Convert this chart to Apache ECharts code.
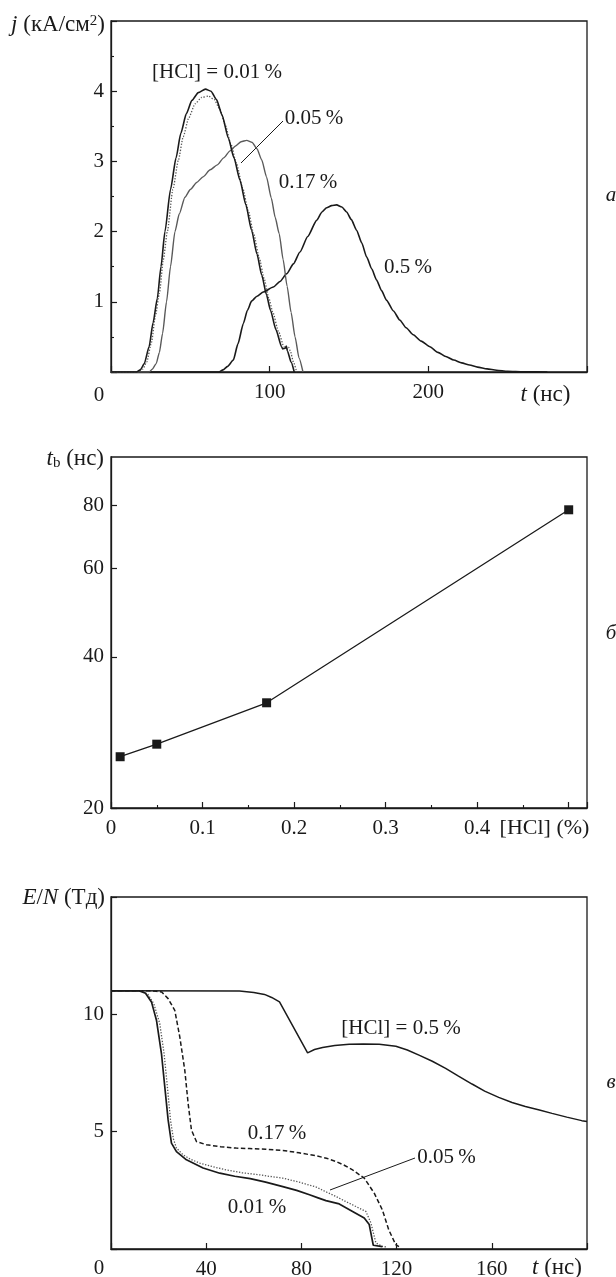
<!DOCTYPE html>
<html><head><meta charset="utf-8">
<script src="https://cdn.jsdelivr.net/npm/echarts@6/dist/echarts.min.js"></script>
<style>html,body{margin:0;padding:0;background:#fff}#c{width:616px;height:1277px}</style>
</head><body><div id="c"></div>
<script>
// ---------- DATA ----------
// Panel a: current density j (kA/cm^2) vs t (ns)
const a_HCl_001 = [[0,0],[16,0],[18.5,0.03],[21,0.12],[24,0.36],[26.5,0.7],[29.2,1.05],[31.5,1.5],[34,2.0],[37.5,2.6],[41,3.05],[44,3.4],[47.5,3.68],[51,3.87],[55,3.98],[59.5,4.03],[63,4.0],[66.5,3.88],[70,3.66],[74,3.33],[77.5,3.05],[81.3,2.73],[85,2.38],[88.6,2.02],[92,1.68],[95,1.38],[98,1.1],[100.5,0.88],[104,0.6],[107.5,0.36],[108.2,0.33],[109.8,0.34],[110.5,0.37],[111.2,0.3],[113.5,0.14],[115.5,0]];
const a_HCl_005 = [[0,0],[17.5,0],[20,0.04],[22.5,0.14],[25.5,0.42],[28,0.8],[30.5,1.12],[33,1.6],[35.5,2.0],[39,2.6],[42.5,3.02],[45.5,3.35],[49,3.62],[53,3.82],[57,3.91],[61.5,3.93],[65,3.88],[68.5,3.75],[72,3.52],[75.5,3.25],[79,2.98],[83,2.62],[86.5,2.3],[90,1.96],[93.5,1.62],[96.5,1.33],[99.5,1.05],[102,0.85],[105.5,0.58],[109,0.36],[111,0.33],[112,0.35],[113,0.3],[115,0.14],[117,0]];
const a_HCl_017 = [[0,0],[24,0],[26,0.04],[28.5,0.12],[30.5,0.28],[32.5,0.55],[35,1.0],[37.5,1.5],[40.3,2.0],[43,2.25],[46.6,2.49],[50,2.6],[54,2.7],[58,2.78],[62.5,2.88],[67,2.95],[71,3.05],[75,3.15],[78.5,3.22],[82,3.28],[85.5,3.3],[89,3.27],[92,3.18],[95,3.02],[98,2.78],[101,2.48],[103.5,2.2],[106,1.97],[108.5,1.6],[111,1.22],[113.5,0.85],[116,0.5],[118.5,0.2],[121,0]];
const a_HCl_05 = [[0,0],[68,0],[70.6,0.03],[73.5,0.08],[77.1,0.17],[80,0.4],[83.4,0.69],[86,0.88],[88.6,1.01],[92,1.08],[96,1.14],[102.3,1.21],[106.5,1.29],[110.7,1.4],[115,1.54],[119.1,1.71],[124,1.93],[129.6,2.16],[133,2.28],[135.9,2.34],[139,2.37],[142.2,2.38],[145.5,2.35],[148.5,2.28],[151.5,2.17],[154.8,2.02],[158,1.84],[161.1,1.64],[164.3,1.47],[167.4,1.31],[170.5,1.16],[173.7,1.02],[178,0.87],[182,0.74],[186,0.63],[190.5,0.53],[195.5,0.44],[201,0.36],[206,0.28],[211,0.22],[216,0.17],[221,0.13],[226,0.1],[231,0.07],[237,0.045],[243,0.025],[250,0.01],[260,0.003],[275,0]];

// Panel b: breakdown time t_b (ns) vs [HCl] (%)
const b_HCl = [0.01, 0.05, 0.17, 0.5];
const b_tb = [25.3, 26.8, 32.4, 78.5];

// Panel c: E/N (Td) vs t (ns)
const c_HCl_001 = [[0,11.0],[12,11.0],[14.5,10.9],[17,10.53],[19.1,9.75],[21.2,8.33],[22.6,6.91],[24,5.5],[25.4,4.51],[27.5,4.15],[31.7,3.8],[38.7,3.45],[45.7,3.23],[52,3.1],[58.5,3.0],[65,2.85],[72.2,2.66],[78,2.5],[83.4,2.31],[87,2.18],[90.3,2.06],[95.9,1.92],[101.5,1.6],[106.4,1.32],[108.5,1.04],[110.2,0.16],[110.8,0.1],[114,0.1]];
const c_HCl_005 = [[0,11.0],[13,11.0],[15.5,10.85],[18,10.45],[20.5,9.6],[22.3,8.33],[23.7,6.9],[25,5.5],[26.2,4.7],[27.5,4.3],[30.3,4.01],[33.5,3.82],[37.3,3.66],[43,3.5],[48.5,3.37],[55,3.25],[62.4,3.16],[67,3.09],[72.2,3.02],[79,2.85],[86.2,2.64],[90,2.45],[94.5,2.24],[98.5,2.03],[102.9,1.81],[107.1,1.6],[109.2,1.11],[111.3,0.26],[114,0.11],[116,0.08]];
const c_HCl_017 = [[0,11.0],[16,11.0],[19,10.98],[21.3,10.95],[24,10.67],[26.8,10.17],[28.9,9.04],[31,7.62],[32.4,6.21],[33.8,5.07],[35.9,4.58],[40.1,4.44],[46,4.36],[52.6,4.3],[58.2,4.28],[65,4.25],[72.2,4.2],[79,4.1],[86.2,3.97],[90.5,3.87],[94.5,3.73],[98,3.57],[101.5,3.37],[106.4,3.02],[110.6,2.38],[114,1.67],[116.7,0.82],[119.6,0.19],[121,0.1]];
const c_HCl_05 = [[0,11.0],[54,10.99],[60,10.93],[64.5,10.85],[67.5,10.72],[70.8,10.53],[82.6,8.36],[85.5,8.5],[88.9,8.59],[94,8.67],[100.1,8.72],[106,8.74],[112.7,8.73],[119.7,8.64],[124.5,8.48],[129.4,8.26],[135,8.0],[140.6,7.7],[146,7.37],[151.7,7.03],[157,6.73],[162.9,6.46],[168.5,6.24],[174.1,6.07],[180,5.92],[185.3,5.78],[191.5,5.62],[197.8,5.47],[200,5.43]];

// Tick labels
const a_xLabels = [100, 200];
const a_yLabels = [1, 2, 3, 4];
const b_xLabels = [0, 0.1, 0.2, 0.3, 0.4];
const b_yTicks = [20, 40, 60, 80];
const c_xLabels = [40, 80, 120, 160];
const c_yLabels = [5, 10];

// ---------- STYLE ----------
const FONT = 'Liberation Serif';
const INK = '#1a1a1a';
const FS = 21;
const TS = 23;

function axisBase(extra) {
  return Object.assign({
    axisLine: {show: true, onZero: false, lineStyle: {color: INK, width: 1.3}},
    axisTick: {show: true, inside: true, length: 6, lineStyle: {color: INK, width: 1.2}},
    splitLine: {show: false},
    axisLabel: {color: INK, fontFamily: FONT, fontSize: FS}
  }, extra);
}
function only(list) {
  return v => list.some(x => Math.abs(x - v) < 1e-9) ? String(v) : '';
}
const grids = [
  {left: 111, top: 21, width: 476, height: 351},
  {left: 111, top: 457, width: 476, height: 351},
  {left: 111, top: 897, width: 476, height: 352}
].map(g => Object.assign(g, {show: true, borderColor: INK, borderWidth: 1.3, backgroundColor: 'transparent', containLabel: false, outerBoundsMode: 'none'}));

function lab(margin, fmt) {
  return {color: INK, fontFamily: FONT, fontSize: FS, margin: margin, formatter: fmt};
}
const xAxis = [
  axisBase({type: 'value', gridIndex: 0, min: 0, max: 300, interval: 100, axisLabel: lab(10, only(a_xLabels))}),
  axisBase({type: 'value', gridIndex: 1, min: 0, max: 0.52, interval: 0.1,
    minorTick: {show: true, splitNumber: 2, length: 3, lineStyle: {color: INK, width: 1.1}},
    axisLabel: lab(10, only(b_xLabels))}),
  axisBase({type: 'value', gridIndex: 2, min: 0, max: 200, interval: 40, axisLabel: lab(10, only(c_xLabels))})
];
const yAxis = [
  axisBase({type: 'value', gridIndex: 0, min: 0, max: 5, interval: 1,
    minorTick: {show: true, splitNumber: 2, length: 3, lineStyle: {color: INK, width: 1.1}},
    axisLabel: lab(7, only(a_yLabels))}),
  axisBase({type: 'log', logBase: 10, gridIndex: 1, min: 20, max: 100,
    axisTick: {show: true, inside: true, length: 6, lineStyle: {color: INK, width: 1.2}, customValues: b_yTicks},
    axisLabel: Object.assign(lab(7, v => String(Math.round(v))), {customValues: b_yTicks})}),
  axisBase({type: 'value', gridIndex: 2, min: 0, max: 15, interval: 5, axisLabel: lab(7, only(c_yLabels))})
];

function line(data, xi, color, width, type, smooth) {
  return {type: 'line', xAxisIndex: xi, yAxisIndex: xi, data: data, showSymbol: false, symbol: 'none',
    smooth: smooth, smoothMonotone: 'x', animation: false, silent: true,
    lineStyle: {color: color, width: width, type: type || 'solid'}};
}
const series = [
  line(a_HCl_05, 0, INK, 1.6, 'solid', 0.2),
  line(a_HCl_017, 0, '#5a5a5a', 1.4, 'solid', 0.2),
  line(a_HCl_005, 0, '#555', 1.3, [1.3, 1.6], 0.2),
  line(a_HCl_001, 0, INK, 1.6, 'solid', 0.2),
  {type: 'line', xAxisIndex: 1, yAxisIndex: 1, data: b_HCl.map((x, i) => [x, b_tb[i]]),
    symbol: 'rect', symbolSize: 9, showSymbol: true, animation: false, silent: true,
    itemStyle: {color: INK}, lineStyle: {color: INK, width: 1.3}},
  line(c_HCl_05, 2, INK, 1.5, 'solid', false),
  line(c_HCl_017, 2, INK, 1.5, [4.5, 2.5], false),
  line(c_HCl_005, 2, '#555', 1.3, [1.3, 1.6], false),
  line(c_HCl_001, 2, INK, 1.7, 'solid', false)
];

function txt(x, y, text, opts) {
  return {type: 'text', silent: true, style: Object.assign({x: x, y: y, text: text, fill: INK, fontFamily: FONT, fontSize: FS,
    align: 'center', verticalAlign: 'middle'}, opts || {})};
}
const rich = {
  i: {fontStyle: 'italic', fontFamily: FONT, fontSize: TS, fill: INK},
  n: {fontFamily: FONT, fontSize: TS, fill: INK},
  sup: {fontFamily: FONT, fontSize: 15, fill: INK, verticalAlign: 'top'},
  sub: {fontFamily: FONT, fontSize: 15, fill: INK, verticalAlign: 'bottom'}
};
const graphic = [
  // axis titles
  txt(105, 25, '{i|j}{n| (кА/см}{sup|2}{n|)}', {align: 'right', rich: rich}),
  txt(104, 459, '{i|t}{sub|b}{n| (нс)}', {align: 'right', rich: rich}),
  txt(105, 898, '{i|E}{n|/}{i|N}{n| (Тд)}', {align: 'right', rich: rich}),
  txt(545.5, 395, '{i|t}{n| (нс)}', {rich: rich}),
  txt(544.5, 828, '[HCl] (%)', {fontSize: 22}),
  txt(557, 1268, '{i|t}{n| (нс)}', {rich: rich}),
  txt(99, 395, '0'),
  txt(99, 1268, '0'),
  // panel letters
  txt(611, 195, 'a', {fontStyle: 'italic'}),
  txt(611, 633, 'б', {fontStyle: 'italic'}),
  txt(611, 1082, 'в', {fontStyle: 'italic'}),
  // annotations panel a
  txt(217, 72, '[HCl] = 0.01\u2009%'),
  txt(314, 118, '0.05\u2009%'),
  txt(308, 182, '0.17\u2009%'),
  txt(408, 267, '0.5\u2009%'),
  {type: 'line', silent: true, shape: {x1: 283, y1: 121, x2: 241, y2: 163}, style: {stroke: INK, lineWidth: 1}},
  // annotations panel c
  txt(401, 1028, '[HCl] = 0.5\u2009%'),
  txt(277, 1133, '0.17\u2009%'),
  txt(446.5, 1157, '0.05\u2009%'),
  txt(257, 1207, '0.01\u2009%'),
  {type: 'line', silent: true, shape: {x1: 415, y1: 1158, x2: 330, y2: 1190}, style: {stroke: INK, lineWidth: 1}}
];

const chart = echarts.init(document.getElementById('c'), null, {renderer: 'canvas'});
chart.setOption({
  backgroundColor: '#fff',
  animation: false,
  grid: grids,
  xAxis: xAxis,
  yAxis: yAxis,
  series: series,
  graphic: graphic
});
</script></body></html>
